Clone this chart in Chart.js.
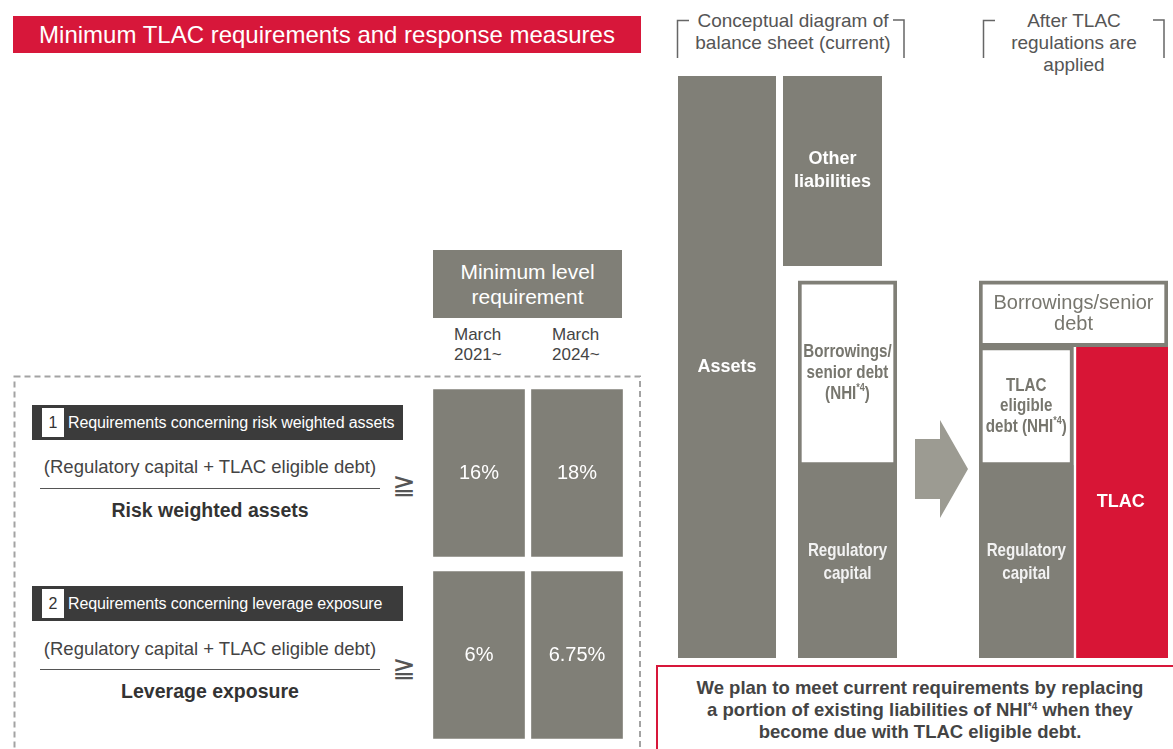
<!DOCTYPE html>
<html>
<head>
<meta charset="utf-8">
<title>Minimum TLAC requirements and response measures</title>
<script src="https://cdn.jsdelivr.net/npm/chart.js@4.4.1/dist/chart.umd.min.js"></script>
<style>
  body { margin: 0; width: 1173px; height: 749px; overflow: hidden; background: #fff; position: relative;
         font-family: 'Liberation Sans', Arial, sans-serif; color: #444; }
  .abs { position: absolute; }
  #title { left: 13px; top: 16px; width: 628px; height: 37px; background: #d7173a; color: #fff;
           font-size: 24px; line-height: 37px; text-align: center; }
  .head { font-size: 19px; line-height: 22px; color: #555; text-align: center; }
  #minHead { left: 433px; top: 250px; width: 189px; height: 68px; background: #807f77; color: #fff;
             font-size: 21px; line-height: 25px; text-align: center; display: flex; align-items: center; justify-content: center; }
  .period { font-size: 17px; line-height: 20px; color: #444; top: 325px; }
  .reqBox { left: 32px; width: 371px; height: 35px; background: #3b3b3b; color: #fff; font-size: 16px; line-height: 35px; }
  .reqBox .num { position: absolute; left: 10px; top: 3px; width: 22px; height: 29px; background: #fff; color: #333;
                 text-align: center; line-height: 29px; }
  .reqBox .txt { position: absolute; left: 36px; top: 0; white-space: nowrap; letter-spacing: -0.1px; }
  .numer { left: 40px; width: 340px; font-size: 18.5px; line-height: 22px; text-align: center; color: #444; white-space: nowrap; }
  .bar { left: 40px; width: 340px; height: 1px; background: #555; }
  .denom { left: 40px; width: 340px; font-size: 19.5px; line-height: 22px; text-align: center; color: #333; font-weight: bold; }
  .geq { left: 390px; width: 28px; font-family: 'DejaVu Sans', sans-serif; font-size: 28px; line-height: 34px; text-align: center; color: #555; }
  #note { left: 656px; top: 665px; width: 540px; height: 100px; border: 2px solid #d7173a; box-sizing: border-box; }
  #noteText { left: 660px; top: 677px; width: 520px; font-size: 18.5px; line-height: 22px; text-align: center;
              font-weight: bold; color: #444; }
  #noteText sup { font-size: 10px; vertical-align: 6px; line-height: 0; }
  canvas { display: block; }
</style>
</head>
<body>

<div id="title" class="abs">Minimum TLAC requirements and response measures</div>

<svg class="abs" style="left:0;top:0" width="1173" height="749">
  <!-- header brackets -->
  <g stroke="#666" stroke-width="1.5" fill="none">
    <polyline points="689,20.5 677.5,20.5 677.5,58"/>
    <polyline points="893,20 904,20 904,58"/>
    <polyline points="995,20.5 983.5,20.5 983.5,58"/>
    <polyline points="1153,20 1164,20 1164,58"/>
  </g>
  <!-- dashed frame round the requirements -->
  <rect x="14.5" y="376.5" width="625.5" height="400" fill="none" stroke="#a3a3a3" stroke-width="2" stroke-dasharray="6 4"/>
  <!-- arrow between balance sheets -->
  <polygon points="915,439 940,439 940,420 968,469 940,518 940,499 915,499" fill="#9c9b92"/>
</svg>

<div class="abs head" style="left:693px;top:10px;width:200px;">Conceptual diagram of<br>balance sheet (current)</div>
<div class="abs head" style="left:994px;top:10px;width:160px;">After TLAC<br>regulations are<br>applied</div>

<div id="minHead" class="abs">Minimum level<br>requirement</div>
<div class="abs period" style="left:454px;">March<br>2021~</div>
<div class="abs period" style="left:552px;">March<br>2024~</div>

<div class="abs reqBox" style="top:405px;"><span class="num">1</span><span class="txt">Requirements concerning risk weighted assets</span></div>
<div class="abs numer" style="top:456px;">(Regulatory capital + TLAC eligible debt)</div>
<div class="abs bar" style="top:488px;"></div>
<div class="abs denom" style="top:499px;">Risk weighted assets</div>
<div class="abs geq" style="top:468px;">≧</div>

<div class="abs reqBox" style="top:586px;"><span class="num">2</span><span class="txt">Requirements concerning leverage exposure</span></div>
<div class="abs numer" style="top:638px;">(Regulatory capital + TLAC eligible debt)</div>
<div class="abs bar" style="top:669px;"></div>
<div class="abs denom" style="top:680px;">Leverage exposure</div>
<div class="abs geq" style="top:651px;">≧</div>

<div class="abs" style="left:430px;top:382px;"><canvas id="gridChart" width="196" height="364"></canvas></div>

<div class="abs" style="left:678px;top:76px;"><canvas id="assetsChart" width="98" height="582"></canvas></div>
<div class="abs" style="left:783px;top:76px;"><canvas id="otherChart" width="99" height="582"></canvas></div>
<div class="abs" style="left:798px;top:76px;"><canvas id="currentChart" width="99" height="582"></canvas></div>
<div class="abs" style="left:979px;top:76px;"><canvas id="afterChart" width="189" height="582"></canvas></div>

<div id="note" class="abs"></div>
<div id="noteText" class="abs">We plan to meet current requirements by replacing<br>a portion of existing liabilities of NHI<sup>*4</sup> when they<br>become due with TLAC eligible debt.</div>

<script>
// minimum level requirement (%)
const periods = ['March 2021~', 'March 2024~'];
const requirements = ['Risk weighted assets', 'Leverage exposure'];
const rwaMinimum = [16, 18];
const leverageMinimum = [6, 6.75];

// balance sheet blocks, share of total assets (bottom, top in %)
const assetsRange = [0, 100];
const otherLiabRange = [67.4, 100];
const currentBlocks = ['Borrowings/senior debt (NHI*4)', 'Regulatory capital'];
const currentRanges = [[33, 64.8], [0, 33]];
const afterBlocks = ['Borrowings/senior debt', 'TLAC eligible debt (NHI*4)', 'Regulatory capital', 'TLAC'];
const afterRanges = [[53.5, 64.8], [33, 53.5], [0, 33], [0, 53.5]];

const GRAY = '#807f77';
const RED = '#d81536';
const SANS = "'Liberation Sans', Arial, sans-serif";

// draws the text in the middle of a bar, '^' marks a superscript part,
// sx squeezes the text sideways (no narrow face installed)
function drawLines(ctx, text, x, y, f) {
    const lines = text.split('\n');
    const sx = f.sx || 1;
    ctx.save();
    ctx.fillStyle = f.color;
    ctx.textBaseline = 'middle';
    ctx.textAlign = 'left';
    const top = y - (lines.length - 1) * f.lh / 2;
    lines.forEach((line, k) => {
        const parts = line.split('^');
        let w = 0;
        parts.forEach((p, j) => { ctx.font = j % 2 ? f.sup : f.main; w += ctx.measureText(p).width; });
        ctx.save();
        ctx.translate(x, top + k * f.lh);
        ctx.scale(sx, 1);
        let cx = -w / 2;
        parts.forEach((p, j) => {
            ctx.font = j % 2 ? f.sup : f.main;
            ctx.fillText(p, cx, j % 2 ? -6 : 0);
            cx += ctx.measureText(p).width;
        });
        ctx.restore();
    });
    ctx.restore();
}

const blockText = {
    id: 'blockText',
    afterDatasetsDraw(chart) {
        chart.data.datasets.forEach((ds, di) => {
            if (!ds.texts) return;
            chart.getDatasetMeta(di).data.forEach((bar, i) => {
                if (!ds.texts[i]) return;
                const c = bar.getCenterPoint();
                drawLines(chart.ctx, ds.texts[i], c.x, c.y, ds.textStyle);
            });
        });
    }
};

function baseOptions(scales) {
    return {
        responsive: false,
        animation: false,
        events: [],
        layout: { padding: 0 },
        plugins: { legend: { display: false }, tooltip: { enabled: false } },
        scales: scales
    };
}

function block(label, data, bg, texts, textStyle, extra) {
    return Object.assign({
        label: label,
        data: data,
        backgroundColor: bg,
        borderWidth: 0,
        borderSkipped: false,
        grouped: false,
        barPercentage: 1,
        categoryPercentage: 1,
        texts: texts,
        textStyle: textStyle
    }, extra || {});
}

const whiteBold = { main: 'bold 18px ' + SANS, sup: 'bold 11px ' + SANS, color: '#fff', lh: 23 };
const whiteNarrow = { main: 'bold 18.5px ' + SANS, sup: 'bold 11px ' + SANS, color: '#f2f2f2', lh: 23, sx: 0.82 };
const grayNarrow = { main: 'bold 18.5px ' + SANS, sup: 'bold 11px ' + SANS, color: '#77766e', lh: 21, sx: 0.82 };
const grayPlain = { main: '20px ' + SANS, sup: '12px ' + SANS, color: '#77766e', lh: 21 };
const boxed = { borderWidth: 4, borderColor: GRAY };

// 2 x 2 table of minimum levels
const minimumLevels = [rwaMinimum, leverageMinimum];
new Chart(document.getElementById('gridChart'), {
    type: 'bar',
    data: {
        labels: periods,
        datasets: requirements.map((name, r) => block(
            name,
            periods.map(() => [r, r + 1]),
            GRAY,
            minimumLevels[r].map(v => v + '%'),
            { main: '20px ' + SANS, sup: '12px ' + SANS, color: '#fff', lh: 22 },
            { borderWidth: { top: 7.5, bottom: 7.5, left: 3.5, right: 3.5 }, borderColor: '#fff' }
        ))
    },
    options: baseOptions({
        x: { display: false },
        y: { display: false, min: 0, max: 2, reverse: true }
    }),
    plugins: [blockText]
});

const columnScales = () => ({
    x: { display: false, offset: true },
    y: { display: false, min: 0, max: 100 }
});

new Chart(document.getElementById('assetsChart'), {
    type: 'bar',
    data: { labels: ['Assets'], datasets: [block('Assets', [assetsRange], GRAY, ['Assets'], whiteBold)] },
    options: baseOptions(columnScales()),
    plugins: [blockText]
});

new Chart(document.getElementById('otherChart'), {
    type: 'bar',
    data: { labels: ['Liabilities'], datasets: [block('Other liabilities', [otherLiabRange], GRAY, ['Other\nliabilities'], whiteBold)] },
    options: baseOptions(columnScales()),
    plugins: [blockText]
});

new Chart(document.getElementById('currentChart'), {
    type: 'bar',
    data: {
        labels: ['Liabilities'],
        datasets: [
            block(currentBlocks[0], [currentRanges[0]], '#fff', ['Borrowings/\nsenior debt\n(NHI^*4^)'], grayNarrow, boxed),
            block(currentBlocks[1], [currentRanges[1]], GRAY, ['Regulatory\ncapital'], whiteNarrow)
        ]
    },
    options: baseOptions(columnScales()),
    plugins: [blockText]
});

let afterScales = columnScales();
afterScales.xs = { type: 'category', labels: ['Borrowings'], display: false, offset: true };
new Chart(document.getElementById('afterChart'), {
    type: 'bar',
    data: {
        labels: ['TLAC eligible debt', 'TLAC'],
        datasets: [
            block(afterBlocks[0], [afterRanges[0]], '#fff', ['Borrowings/senior\ndebt'], grayPlain,
                  { xAxisID: 'xs', borderWidth: 4, borderColor: GRAY }),
            block(afterBlocks[1], [afterRanges[1], null], '#fff', ['TLAC\neligible\ndebt (NHI^*4^)', null],
                  Object.assign({}, grayNarrow, { lh: 20.5 }), boxed),
            block(afterBlocks[2], [afterRanges[2], null], GRAY, ['Regulatory\ncapital', null], whiteNarrow),
            block(afterBlocks[3], [null, afterRanges[3]], RED, [null, 'TLAC'], whiteBold,
                  { borderWidth: { left: 3 }, borderColor: '#fff' })
        ]
    },
    options: baseOptions(afterScales),
    plugins: [blockText]
});
</script>
</body>
</html>
